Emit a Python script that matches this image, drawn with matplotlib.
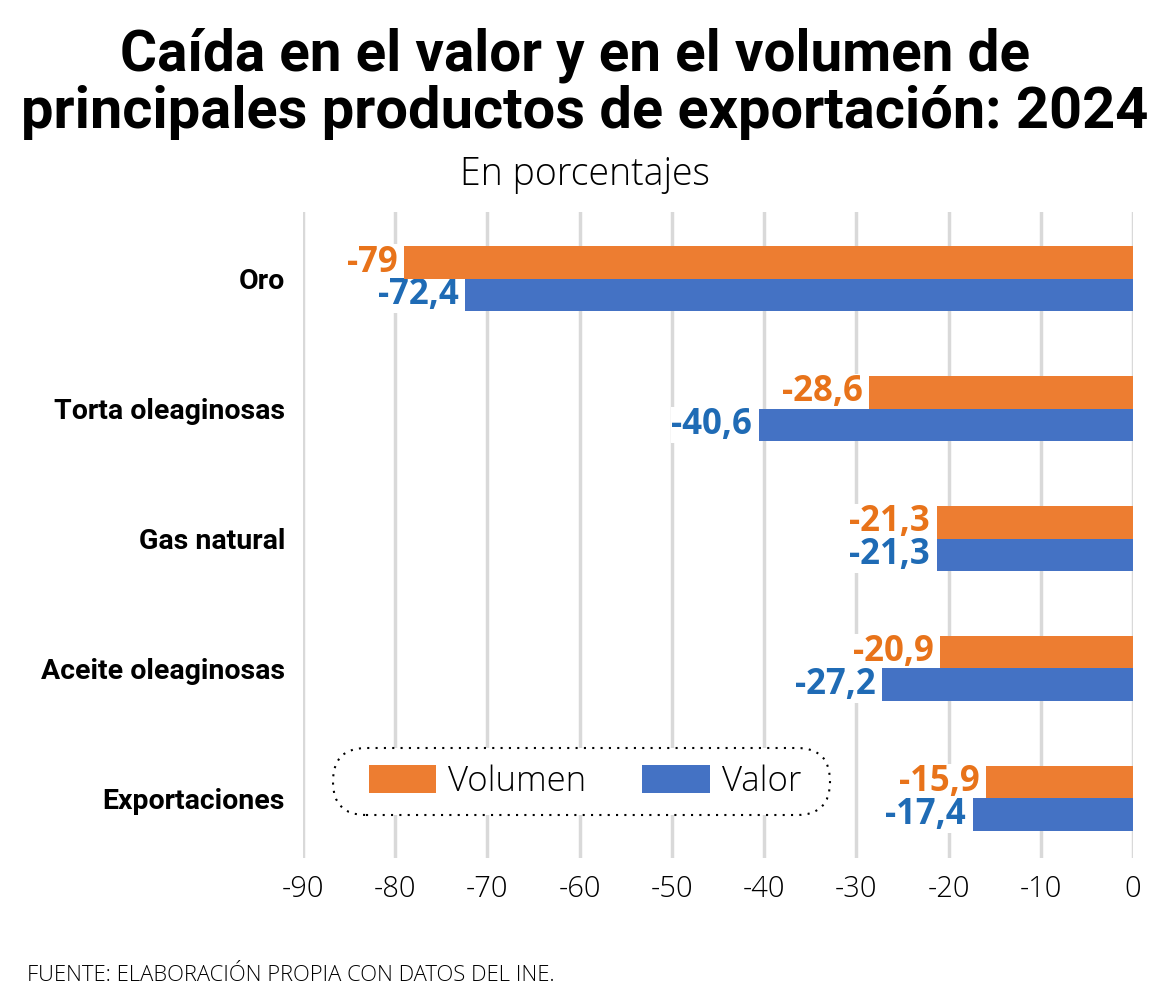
import numpy as np
import matplotlib
matplotlib.use("Agg")
from matplotlib import pyplot as plt
from matplotlib.patches import FancyBboxPatch
from matplotlib.transforms import IdentityTransform

# data
categories = ["Oro", "Torta oleaginosas", "Gas natural", "Aceite oleaginosas", "Exportaciones"]
volumen = [-79, -28.6, -21.3, -20.9, -15.9]
valor = [-72.4, -40.6, -21.3, -27.2, -17.4]
x_ticks = [-90, -80, -70, -60, -50, -40, -30, -20, -10, 0]

ORANGE = "#ED7D31"
BLUE = "#4472C4"
ORANGE_TXT = "#E8731A"
BLUE_TXT = "#1F6BB5"

BOLD = ["Roboto", "DejaVu Sans"]
LIGHT = ["Open Sans", "DejaVu Sans"]

W, H = 1170, 1005
fig = plt.figure(figsize=(W / 100, H / 100), dpi=100)
ax = fig.add_axes([303 / W, 1 - 858 / H, 830 / W, 646 / H])

y = np.arange(len(categories))
h = 0.25
b1 = ax.barh(y - h / 2, volumen, height=h, color=ORANGE, label="Volumen", zorder=3)
b2 = ax.barh(y + h / 2, valor, height=h, color=BLUE, label="Valor", zorder=3)


def fmt(v):
    s = f"{v:.1f}".rstrip("0").rstrip(".")
    return s.replace(".", ",")


# value labels, left of the bar end (white box hides the grid, bars stay on top)
for yi, v in zip(y - h / 2, volumen):
    ax.text(v - 0.7, yi, fmt(v), ha="right", va="center", fontsize=25, fontweight="bold",
            family=LIGHT, color=ORANGE_TXT, zorder=2,
            bbox=dict(facecolor="white", edgecolor="none", pad=0.3))
for yi, v in zip(y + h / 2, valor):
    ax.text(v - 0.7, yi, fmt(v), ha="right", va="center", fontsize=25, fontweight="bold",
            family=LIGHT, color=BLUE_TXT, zorder=2,
            bbox=dict(facecolor="white", edgecolor="none", pad=0.3))

ax.set_xlim(-90, 0)
ax.set_ylim(4.46, -0.515)
ax.set_xticks(x_ticks)
ax.set_xticklabels([str(t) for t in x_ticks], family=LIGHT, fontsize=21, fontweight="light")
ax.set_yticks(y)
ax.set_yticklabels(categories, family=BOLD, fontsize=20.5, fontweight="bold")
ax.tick_params(axis="both", length=0)
ax.tick_params(axis="x", pad=12)
ax.tick_params(axis="y", pad=13)
for s in ax.spines.values():
    s.set_visible(False)
ax.grid(axis="x", color="#D9D9D9", linewidth=2.5, zorder=0)
ax.set_axisbelow(True)

# legend: pill shaped dotted frame drawn behind a frameless figure legend
pill = FancyBboxPatch((333, H - 815), 497, 67, boxstyle="round,pad=0,rounding_size=33",
                      transform=IdentityTransform(), facecolor="white", edgecolor="black",
                      linewidth=1.5, linestyle=(0, (1, 3)), zorder=5)
fig.add_artist(pill)
leg = fig.legend(handles=[b1, b2], labels=["Volumen", "Valor"], loc="center",
                 bbox_to_anchor=(585 / W, 1 - 782 / H), ncol=2, frameon=False,
                 prop=dict(family=LIGHT, size=25, weight="light"), handlelength=1.95, handleheight=0.85,
                 handletextpad=0.35, columnspacing=1.6, borderpad=0.3, borderaxespad=0)
leg.set_zorder(6)

t1 = fig.text(575 / W, 1 - 55 / H, "Caída en el valor y en el volumen de", ha="center", va="center",
              fontsize=40, fontweight="bold", family=BOLD)
t2 = fig.text(585 / W, 1 - 112 / H, "principales productos de exportación: 2024", ha="center", va="center",
              fontsize=40, fontweight="bold", family=BOLD)
fig.text(585 / W, 1 - 175 / H, "En porcentajes", ha="center", va="center",
         fontsize=27, family=LIGHT, fontweight="light")
fig.text(27 / W, 1 - 975 / H, "FUENTE: ELABORACIÓN PROPIA CON DATOS DEL INE.", ha="left", va="center",
         fontsize=15.8, family=LIGHT, fontweight="light")

# shrink title lines so they span the same width as in the reference
renderer = fig.canvas.get_renderer()
for t, target in ((t1, 910), (t2, 1126)):
    w = t.get_window_extent(renderer).width
    t.set_fontsize(t.get_fontsize() * target / w)

fig.savefig("out.png", dpi=100, facecolor="white")
